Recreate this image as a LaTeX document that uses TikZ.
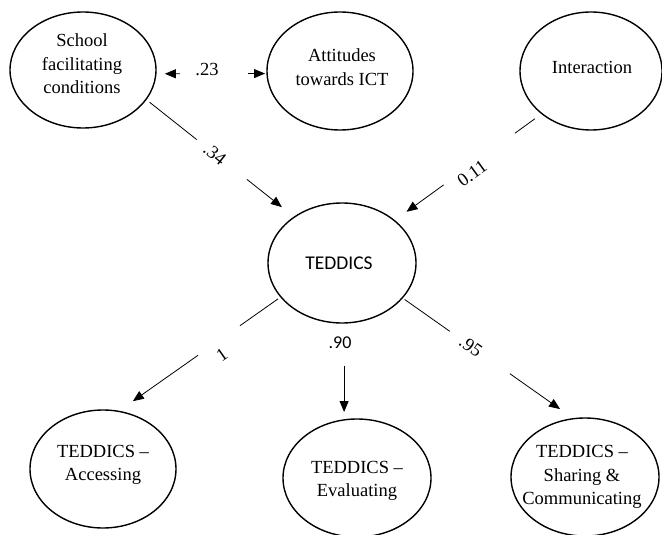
\documentclass[tikz,border=0pt]{standalone}
\usepackage{fontspec}
\setmainfont{Liberation Serif}
\newfontfamily\calibfont{Carlito}
\usetikzlibrary{shapes.geometric,arrows.meta,calc}
\begin{document}
\begin{tikzpicture}[x=1bp,y=-1bp,
  ell/.style={draw, ellipse, line width=1.4bp, inner sep=0pt, outer sep=0pt},
  txt/.style={align=center, inner sep=0pt, font=\fontsize{18.5bp}{23.5bp}\selectfont},
  line/.style={line width=0.8bp},
  conn/.style={line width=0.8bp, -{Triangle[length=11bp,width=9bp]}},
  lbl/.style={sloped, inner sep=0pt, font=\fontsize{18.5bp}{22bp}\selectfont}
]
\useasboundingbox (0,0) rectangle (662,535);

% ellipses
\node[ell, minimum width=146bp, minimum height=116bp] (School) at (83,70) {};
\node[ell, minimum width=146bp, minimum height=118bp] (Attitudes) at (340,71) {};
\node[ell, minimum width=142bp, minimum height=118bp] (Interaction) at (591,71) {};
\node[ell, minimum width=148bp, minimum height=120bp] (TEDDICS) at (342,263) {};
\node[ell, minimum width=146bp, minimum height=118bp] (Accessing) at (103,469) {};
\node[ell, minimum width=148bp, minimum height=118bp] (Evaluating) at (357,478) {};
\node[ell, minimum width=148bp, minimum height=118bp] (Sharing) at (585,477) {};

% texts
\node[txt] (SchoolT) at (82,64) {School\\facilitating\\conditions};
\node[txt] (AttT) at (342,67) {Attitudes\\towards ICT};
\node[txt] (InterT) at (592,67) {Interaction};
\node[txt, font=\calibfont\fontsize{19.5bp}{24bp}\selectfont] (TedT) at (339,263) {TEDDICS};
\node[txt] (AccT) at (103,465) {TEDDICS –\\Accessing};
\node[txt] (EvalT) at (357,481) {TEDDICS –\\Evaluating};
\node[txt] (ShareT) at (582,477) {TEDDICS –\\Sharing \&\\Communicating};

% gap coordinates
\coordinate (c23a) at ($(School.-3)!0.217!(Attitudes.182)$);
\coordinate (c23b) at ($(School.-3)!0.829!(Attitudes.182)$);
\coordinate (c34a) at ($(School.-25)!0.342!(TEDDICS.136)$);
\coordinate (c34b) at ($(School.-25)!0.680!(TEDDICS.136)$);
\coordinate (c11a) at ($(Interaction.221)!0.183!(TEDDICS.39)$);
\coordinate (c11b) at ($(Interaction.221)!0.666!(TEDDICS.39)$);
\coordinate (c1a) at ($(TEDDICS.209)!0.252!(Accessing.75)$);
\coordinate (c1b) at ($(TEDDICS.209)!0.510!(Accessing.75)$);
\coordinate (c95a) at ($(TEDDICS.-30)!0.277!(Sharing.101)$);
\coordinate (c95b) at ($(TEDDICS.-30)!0.628!(Sharing.101)$);

% correlation .23
\draw[line, -{Triangle[length=11bp,width=9bp]}, shorten >=9bp] (c23a) -- (School.-3);
\draw[conn, shorten >=2bp] (c23b) -- (Attitudes.182);
\node[inner sep=0pt, font=\fontsize{18.5bp}{22bp}\selectfont] (l23) at (207,70) {.23};

% School -> TEDDICS
\draw[line, shorten <=4.7bp] (School.-25) -- (c34a);
\draw[conn, shorten >=16bp] (c34b) -- (TEDDICS.136);
\path (School.-25) -- node[lbl, pos=0.464] (l34) {.34} (TEDDICS.136);

% Interaction -> TEDDICS
\draw[line, shorten <=8.7bp] (Interaction.221) -- (c11a);
\draw[conn, shorten >=15bp] (c11b) -- (TEDDICS.39);
\path (Interaction.221) -- node[lbl, pos=0.503, below=1bp] (l011) {0.11} (TEDDICS.39);

% TEDDICS -> Accessing
\draw[line, shorten <=3.5bp] (TEDDICS.209) -- (c1a);
\draw[conn, shorten >=17.6bp] (c1b) -- (Accessing.75);
\path (TEDDICS.209) -- node[lbl, pos=0.411, below=7bp] (l1) {1} (Accessing.75);

% TEDDICS -> Sharing
\draw[line, shorten <=2.9bp] (TEDDICS.-30) -- (c95a);
\draw[conn, shorten >=16.7bp] (c95b) -- (Sharing.101);
\path (TEDDICS.-30) -- node[lbl, pos=0.40] (l95) {.95} (Sharing.101);

% TEDDICS -> Evaluating
\draw[conn, shorten <=43bp, shorten >=7bp] (TEDDICS.-88)
  -- node[pos=0.208, xshift=-4bp, inner sep=0pt, font=\calibfont\fontsize{18bp}{22bp}\selectfont] (l90) {.90}
  (TEDDICS.-88 |- Evaluating.north);
\end{tikzpicture}
\end{document}
